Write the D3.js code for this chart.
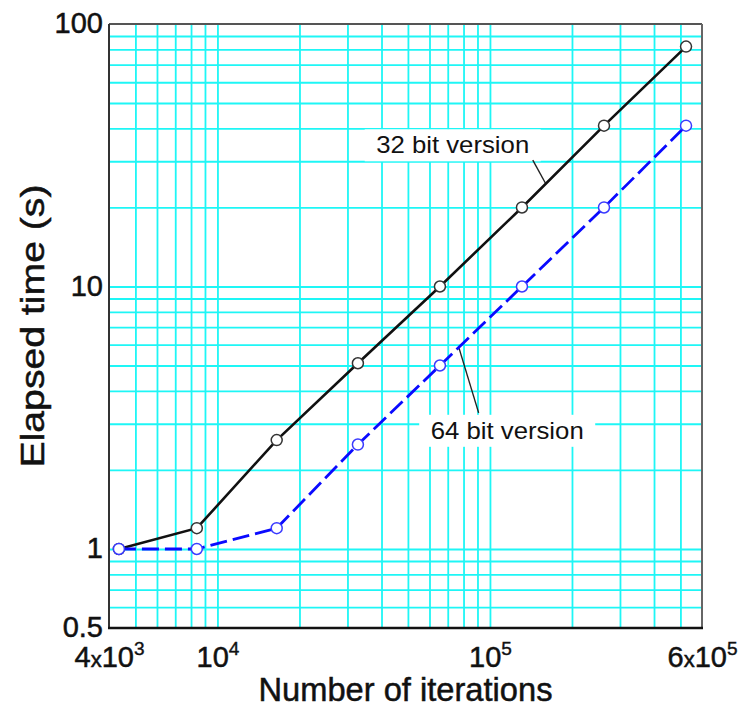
<!DOCTYPE html>
<html>
<head>
<meta charset="utf-8">
<script src="https://cdn.jsdelivr.net/npm/d3@7"></script>
<style>
  html, body { margin: 0; padding: 0; background: #fff; }
  svg { display: block; font-family: "Liberation Sans", Arial, sans-serif; }
</style>
</head>
<body>
<svg id="chart" width="747" height="715"></svg>
<script>
// ---- data ----
const iterations = [4350, 8400, 16500, 32768, 65536, 131072, 262144, 524288];
const time32 = [1, 1.2, 2.6, 5.1, 10, 20, 41, 82];
const time64 = [1, 1, 1.2, 2.5, 5, 10, 20, 41];
const yTickValues = [0.5, 1, 10, 100];
const yTickLabels = ["0.5", "1", "10", "100"];
const xTickValues = [4000, 10000, 100000, 600000];
const xTickLabels = [["4", "3"], ["", "4"], ["", "5"], ["6", "5"]]; // mantissa, exponent
const seriesNames = ["32 bit version", "64 bit version"];

// ---- layout ----
const svg = d3.select("#chart");
const L = 109, R = 702, T = 24, B = 628;
const x = d3.scaleLog().domain([4000, 600000]).range([L, R]);
const y = d3.scaleLog().domain([0.5, 100]).range([B, T]);

// grid values (minor grid 1..9 per decade)
const gridX = [];
for (let e = 3; e <= 5; e++) for (let m = 1; m <= 9; m++) {
  const v = m * Math.pow(10, e);
  if (v > 4000 && v < 600000) gridX.push(v);
}
const gridY = [];
for (let e = -1; e <= 1; e++) for (let m = 1; m <= 9; m++) {
  const v = m * Math.pow(10, e);
  if (v > 0.5 && v < 100) gridY.push(v);
}

const grid = svg.append("g");
grid.append("g").attr("transform", `translate(0,${B})`)
  .call(d3.axisBottom(x).tickValues(gridX).tickSize(-(B - T)).tickFormat(""))
  .call(g => g.select(".domain").remove());
grid.append("g").attr("transform", `translate(${L},0)`)
  .call(d3.axisLeft(y).tickValues(gridY).tickSize(-(R - L)).tickFormat(""))
  .call(g => g.select(".domain").remove());
grid.selectAll(".tick line").attr("stroke", "#1ef6f6").attr("stroke-width", 1.8);

// ---- label backgrounds (white boxes that interrupt grid) ----
const ann = [
  { name: seriesNames[0], cx: 73000, cy: 34.5, vals: time32, seg: 5, frac: 0.29, lx: 143600, ly: 30.3 },
  { name: seriesNames[1], cx: 115700, cy: 2.82, vals: time64, seg: 4, frac: 0.23, lx: 90900, ly: 3.3 }
];
const fs = 24;
const annG = svg.append("g");
ann.forEach(a => {
  const px = x(a.cx), py = y(a.cy);
  annG.append("rect")
    .attr("x", px - 88).attr("y", py - 16)
    .attr("width", 176).attr("height", 32)
    .attr("fill", "#fff");
});

// ---- frame ----
const frame = svg.append("g");
frame.append("line").attr("x1", L).attr("x2", R).attr("y1", T).attr("y2", T).attr("stroke", "#555").attr("stroke-width", 2);
frame.append("line").attr("x1", R).attr("x2", R).attr("y1", T).attr("y2", B).attr("stroke", "#666").attr("stroke-width", 2);
frame.append("line").attr("x1", L).attr("x2", L).attr("y1", T).attr("y2", B + 1).attr("stroke", "#333").attr("stroke-width", 2);
frame.append("line").attr("x1", L - 1).attr("x2", R + 1).attr("y1", B).attr("y2", B).attr("stroke", "#111").attr("stroke-width", 2.5);

// ---- annotation texts and leaders ----
ann.forEach(a => {
  const px = x(a.cx), py = y(a.cy);
  annG.append("text")
    .attr("x", px).attr("y", py + 8)
    .attr("text-anchor", "middle")
    .attr("font-size", fs)
    .attr("fill", "#111")
    .attr("textLength", 153).attr("lengthAdjust", "spacingAndGlyphs")
    .text(a.name);
  const i = a.seg;
  const x0 = x(iterations[i]), x1 = x(iterations[i + 1]);
  const y0 = y(a.vals[i]), y1 = y(a.vals[i + 1]);
  annG.append("line")
    .attr("x1", x(a.lx)).attr("y1", y(a.ly))
    .attr("x2", x0 + (x1 - x0) * a.frac).attr("y2", y0 + (y1 - y0) * a.frac)
    .attr("stroke", "#222").attr("stroke-width", 1.4);
});

// ---- series ----
const line = d3.line().x((d, i) => x(iterations[i])).y(d => y(d));
svg.append("path").datum(time32).attr("d", line)
  .attr("fill", "none").attr("stroke", "#111").attr("stroke-width", 2.6);
svg.append("path").datum(time64).attr("d", line)
  .attr("fill", "none").attr("stroke", "#0a0aff").attr("stroke-width", 2.8)
  .attr("stroke-dasharray", "17,6");

svg.append("g").selectAll("circle").data(time32).join("circle")
  .attr("cx", (d, i) => x(iterations[i])).attr("cy", d => y(d)).attr("r", 5.5)
  .attr("fill", "#fff").attr("stroke", "#333").attr("stroke-width", 1.5);
svg.append("g").selectAll("circle").data(time64).join("circle")
  .attr("cx", (d, i) => x(iterations[i])).attr("cy", d => y(d)).attr("r", 5.5)
  .attr("fill", "#fff").attr("stroke", "#3a3aff").attr("stroke-width", 1.5);

// ---- axes labels ----
const yAx = svg.append("g").attr("transform", `translate(${L},0)`)
  .call(d3.axisLeft(y).tickValues(yTickValues).tickSize(0).tickPadding(6)
    .tickFormat((d, i) => yTickLabels[i]));
yAx.select(".domain").remove();
yAx.selectAll("text").attr("font-size", 29).attr("fill", "#111")
  .attr("stroke", "#111").attr("stroke-width", 0.5)
  .attr("font-family", "Liberation Sans, Arial, sans-serif").attr("dy", "0.3em");

const xAx = svg.append("g").attr("transform", `translate(0,${B})`)
  .call(d3.axisBottom(x).tickValues(xTickValues).tickSize(0).tickFormat(""));
xAx.select(".domain").remove();
xAx.selectAll(".tick").each(function(d, i) {
  const [m, e] = xTickLabels[i];
  const g = d3.select(this);
  const base = g.append("text")
    .attr("y", 39).attr("text-anchor", "start")
    .attr("font-size", 29).attr("fill", "#111")
    .attr("stroke", "#111").attr("stroke-width", 0.5)
    .attr("font-family", "Liberation Sans, Arial, sans-serif");
  if (m) {
    base.append("tspan").text(m);
    base.append("tspan").attr("font-size", 22).text("x");
  }
  base.append("tspan").text("10");
  const sup = g.append("text")
    .attr("y", 27).attr("text-anchor", "start")
    .attr("font-size", 19).attr("fill", "#111")
    .attr("stroke", "#111").attr("stroke-width", 0.4)
    .attr("font-family", "Liberation Sans, Arial, sans-serif")
    .text(e);
  const wb = base.node().getComputedTextLength();
  const ws = sup.node().getComputedTextLength();
  const start = -(wb + ws) / 2;
  base.attr("x", start);
  sup.attr("x", start + wb);
});

// ---- titles ----
svg.append("text")
  .attr("x", (L + R) / 2).attr("y", 701)
  .attr("text-anchor", "middle").attr("font-size", 33).attr("fill", "#111")
  .attr("stroke", "#111").attr("stroke-width", 0.5)
  .attr("textLength", 294).attr("lengthAdjust", "spacingAndGlyphs")
  .text("Number of iterations");
svg.append("text")
  .attr("transform", `translate(44,${326}) rotate(-90)`)
  .attr("text-anchor", "middle").attr("font-size", 34).attr("fill", "#111")
  .attr("stroke", "#111").attr("stroke-width", 0.5)
  .attr("textLength", 283).attr("lengthAdjust", "spacingAndGlyphs")
  .text("Elapsed time (s)");
</script>
</body>
</html>
